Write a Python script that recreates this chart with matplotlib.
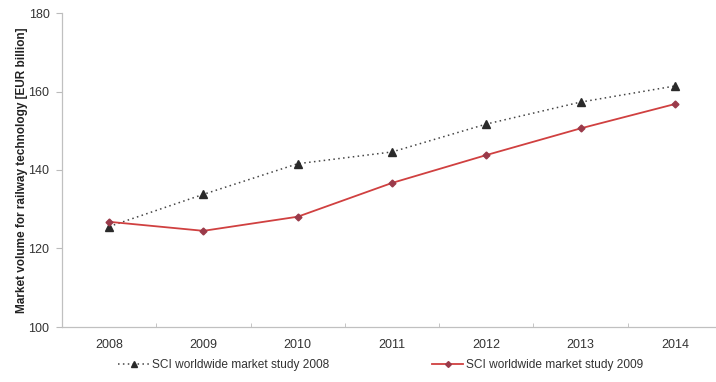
import matplotlib
matplotlib.use("Agg")
import matplotlib.pyplot as plt
from matplotlib.ticker import FixedLocator

years = ["2008", "2009", "2010", "2011", "2012", "2013", "2014"]
study_2008 = [125.6, 133.8, 141.6, 144.6, 151.7, 157.3, 161.4]
study_2009 = [126.8, 124.5, 128.1, 136.7, 143.8, 150.6, 156.8]
label_2008 = "SCI worldwide market study 2008"
label_2009 = "SCI worldwide market study 2009"

plt.rcParams["font.family"] = ["Liberation Sans", "DejaVu Sans"]

fig = plt.figure(figsize=(7.16, 3.82), dpi=100)
ax = fig.add_axes([62 / 716, 1 - 327 / 382, 660 / 716, 314 / 382])

x = list(range(len(years)))
line_a, = ax.plot(x, study_2008, color="#444444", linestyle=(0, (1, 2.2)), linewidth=1.1,
                  marker="^", markersize=5.5, markerfacecolor="#2a2a2a",
                  markeredgecolor="#2a2a2a", label=label_2008)
line_b, = ax.plot(x, study_2009, color="#d04040", linewidth=1.3,
                  marker="D", markersize=3.5, markerfacecolor="#9a3a4a",
                  markeredgecolor="#9a3a4a", label=label_2009)

ax.set_ylim(100, 180)
ax.set_yticks([100, 120, 140, 160, 180])
ax.set_xlim(-0.5, len(years) - 0.5)
ax.set_xticks(x)
ax.set_xticklabels(years)
ax.xaxis.set_minor_locator(FixedLocator([i + 0.5 for i in range(len(years) - 1)]))
ax.tick_params(axis="x", which="major", length=0, pad=9, labelsize=9, colors="#333333")
ax.tick_params(axis="x", which="minor", direction="in", length=3, color="#bbbbbb")
ax.tick_params(axis="y", length=4, color="#bbbbbb", labelsize=9, labelcolor="#333333", pad=5)

for side in ("top", "right"):
    ax.spines[side].set_visible(False)
for side in ("left", "bottom"):
    ax.spines[side].set_color("#c0c0c0")
    ax.spines[side].set_linewidth(0.9)

ax.set_ylabel("Market volume for railway technology [EUR billion]",
              fontsize=8.5, fontweight="bold", color="#222222")
ax.yaxis.set_label_coords(-0.052, 0.5)

legend_y = 1 - 365 / 382
for handle, xpos in ((line_a, 118 / 716), (line_b, 432 / 716)):
    leg = fig.legend(handles=[handle], loc="center left", bbox_to_anchor=(xpos, legend_y),
                     frameon=False, fontsize=8.6, handlelength=2.6, markerscale=0.85,
                     handletextpad=0.25, borderaxespad=0, borderpad=0)
    for t in leg.get_texts():
        t.set_color("#333333")

fig.savefig("out.png", dpi=100)
